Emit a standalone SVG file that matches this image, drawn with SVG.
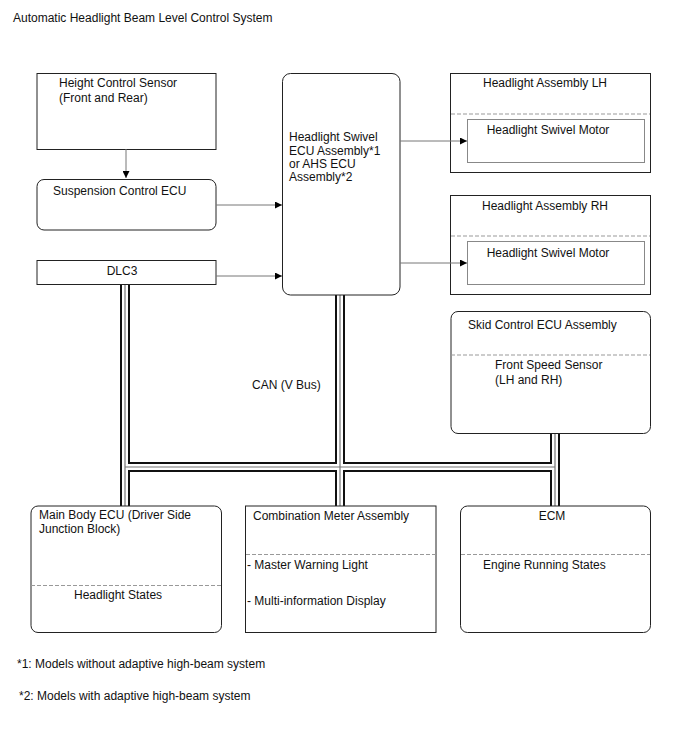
<svg xmlns="http://www.w3.org/2000/svg" width="688" height="755" viewBox="0 0 688 755">
<style>
text{font-family:"Liberation Sans",Arial,sans-serif;font-size:12px;fill:#111}
.box{fill:#fff;stroke:#222;stroke-width:1}
.inner{fill:#fff;stroke:#888;stroke-width:1}
.dash{stroke:#999;stroke-width:1;stroke-dasharray:4,2;fill:none}
.conn{stroke:#777;stroke-width:1;fill:none}
.busB{stroke:#111;stroke-width:10;fill:none}
.busW{stroke:#fff;stroke-width:6;fill:none}
.busG{stroke:#777;stroke-width:1.2;fill:none}
</style>
<defs>
<marker id="arr" viewBox="0 0 10 10" refX="10" refY="5" markerWidth="8" markerHeight="7" markerUnits="userSpaceOnUse" orient="auto">
<path d="M0,0 L10,5 L0,10 z" fill="#000"/>
</marker>
</defs>
<rect width="688" height="755" fill="#fff"/>
<text x="13" y="22">Automatic Headlight Beam Level Control System</text>

<g id="bus">
<path class="busB" d="M125,284V506M340,295V506M555,433V506M125,467H555"/>
<path class="busW" d="M125,284V506M340,295V506M555,433V506M125,467H555"/>
<path class="busG" d="M125,284V506M340,295V506M555,433V506M125,467H555"/>
</g>

<g id="height-sensor">
<rect class="box" x="37" y="73.5" width="179" height="76"/>
<text x="59" y="87">Height Control Sensor</text>
<text x="59" y="101.5">(Front and Rear)</text>
</g>

<g id="suspension-ecu">
<rect class="box" x="37" y="179.5" width="179" height="50.5" rx="7"/>
<text x="53" y="194.5">Suspension Control ECU</text>
</g>

<g id="dlc3">
<rect class="box" x="37" y="260.5" width="179" height="24"/>
<text x="122" y="274.5" text-anchor="middle">DLC3</text>
</g>

<g id="swivel-ecu">
<rect class="box" x="282.5" y="73.5" width="117.5" height="221.5" rx="8"/>
<text x="289" y="141">Headlight Swivel</text>
<text x="289" y="154.5">ECU Assembly*1</text>
<text x="289" y="168">or AHS ECU</text>
<text x="289" y="181">Assembly*2</text>
</g>

<g id="headlight-lh">
<rect class="box" x="450.5" y="73.5" width="200" height="99"/>
<line class="dash" x1="451" y1="114" x2="650" y2="114"/>
<text x="545" y="87" text-anchor="middle">Headlight Assembly LH</text>
<rect class="inner" x="467.5" y="119.5" width="177" height="43"/>
<text x="548" y="133.5" text-anchor="middle">Headlight Swivel Motor</text>
</g>

<g id="headlight-rh">
<rect class="box" x="450.5" y="195.5" width="200" height="99"/>
<line class="dash" x1="451" y1="236" x2="650" y2="236"/>
<text x="545" y="210" text-anchor="middle">Headlight Assembly RH</text>
<rect class="inner" x="467.5" y="241.5" width="177" height="43"/>
<text x="548" y="257" text-anchor="middle">Headlight Swivel Motor</text>
</g>

<g id="skid-ecu">
<rect class="box" x="451" y="311.5" width="199.5" height="122" rx="7"/>
<line class="dash" x1="451" y1="355" x2="650" y2="355"/>
<text x="468" y="328.5">Skid Control ECU Assembly</text>
<text x="495" y="369">Front Speed Sensor</text>
<text x="495" y="383.5">(LH and RH)</text>
</g>

<text x="252" y="388.5">CAN (V Bus)</text>

<g id="main-body-ecu">
<rect class="box" x="31" y="506" width="190.5" height="126.5" rx="7"/>
<line class="dash" x1="31" y1="585.5" x2="221" y2="585.5"/>
<text x="39" y="518.5">Main Body ECU (Driver Side</text>
<text x="39" y="532.5">Junction Block)</text>
<text x="74" y="598.5">Headlight States</text>
</g>

<g id="combination-meter">
<rect class="box" x="245.5" y="506" width="190.5" height="126.5"/>
<line class="dash" x1="246" y1="554.5" x2="436" y2="554.5"/>
<text x="253" y="519.5">Combination Meter Assembly</text>
<text x="247" y="568.5">- Master Warning Light</text>
<text x="247" y="605">- Multi-information Display</text>
</g>

<g id="ecm">
<rect class="box" x="460.5" y="506" width="190" height="126.5" rx="7"/>
<line class="dash" x1="461" y1="554.5" x2="650" y2="554.5"/>
<text x="552" y="519.5" text-anchor="middle">ECM</text>
<text x="483" y="569">Engine Running States</text>
</g>

<g id="connectors">
<path class="conn" d="M126,149V178" marker-end="url(#arr)"/>
<path class="conn" d="M216,205H282" marker-end="url(#arr)"/>
<path class="conn" d="M216,276H282" marker-end="url(#arr)"/>
<path class="conn" d="M400,141H467" marker-end="url(#arr)"/>
<path class="conn" d="M400,263H467" marker-end="url(#arr)"/>
</g>

<text x="17" y="667.5">*1: Models without adaptive high-beam system</text>
<text x="19" y="700">*2: Models with adaptive high-beam system</text>
</svg>
